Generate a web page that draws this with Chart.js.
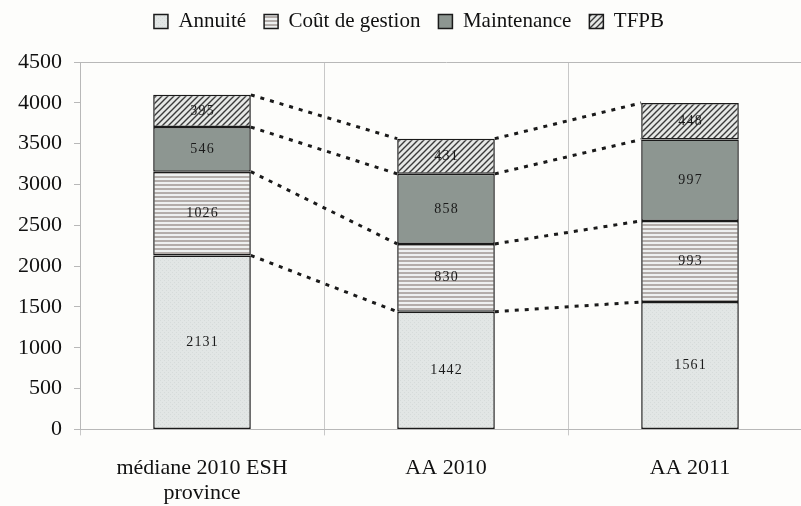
<!DOCTYPE html>
<html>
<head>
<meta charset="utf-8">
<script src="https://cdn.jsdelivr.net/npm/chart.js@4.4.1/dist/chart.umd.min.js"></script>
<style>
  html, body { margin: 0; padding: 0; background: #fdfdfb; overflow: hidden; }
  #wrap { width: 812px; height: 529px; }
</style>
</head>
<body>
<div id="wrap"><canvas id="costChart" width="812" height="529"></canvas></div>
<script>
// data
const categories = [['médiane 2010 ESH', 'province'], 'AA 2010', 'AA 2011'];
const annuite = [2131, 1442, 1561];
const coutGestion = [1026, 830, 993];
const maintenance = [546, 858, 997];
const tfpb = [395, 431, 448];
const yTicks = [0, 500, 1000, 1500, 2000, 2500, 3000, 3500, 4000, 4500];

// fill patterns (like the old excel hatching)
function makePattern(w, h, draw) {
  const c = document.createElement('canvas');
  c.width = w; c.height = h;
  const g = c.getContext('2d');
  draw(g, w, h);
  return g.createPattern(c, 'repeat');
}
const ctx = document.getElementById('costChart').getContext('2d');

const annuiteFill = makePattern(4, 4, (g, w, h) => {
  g.fillStyle = '#e2e6e5'; g.fillRect(0, 0, w, h);
  g.fillStyle = '#d6dbda'; g.fillRect(0, 0, 1, 1); g.fillRect(2, 2, 1, 1);
});
const gestionFill = makePattern(4, 4, (g, w, h) => {
  g.fillStyle = '#eef0f0'; g.fillRect(0, 0, w, h);
  g.fillStyle = '#b3adaa'; g.fillRect(0, 0, w, 2);
});
const maintenanceFill = '#8d9691';
const tfpbFill = makePattern(6, 6, (g, w, h) => {
  g.fillStyle = '#e6e8e6'; g.fillRect(0, 0, w, h);
  g.strokeStyle = '#3a3a3a'; g.lineWidth = 1.4;
  g.beginPath();
  g.moveTo(0, 6); g.lineTo(6, 0);
  g.moveTo(-3, 3); g.lineTo(3, -3);
  g.moveTo(3, 9); g.lineTo(9, 3);
  g.stroke();
});

function barSet(label, data, fill) {
  return {
    label: label,
    data: data,
    backgroundColor: fill,
    borderColor: '#1a1a1a',
    borderWidth: 1.5,
    borderSkipped: false,
    barPercentage: 0.4,
    categoryPercentage: 1.0
  };
}

// value labels in the middle of every block
const valueLabels = {
  id: 'valueLabels',
  afterDatasetsDraw(chart) {
    const c = chart.ctx;
    c.save();
    c.font = '14px "Liberation Serif", serif';
    c.fillStyle = '#1a1a1a';
    c.textAlign = 'center';
    c.textBaseline = 'middle';
    chart.data.datasets.forEach((ds, d) => {
      chart.getDatasetMeta(d).data.forEach((el, i) => {
        c.fillText(String(ds.data[i]).split('').join(String.fromCharCode(8202)), el.x, (el.y + el.base) / 2);
      });
    });
    c.restore();
  }
};

// dotted lines between the stack levels of neighbour bars
const connectors = {
  id: 'connectors',
  beforeDatasetsDraw(chart) {
    const c = chart.ctx;
    c.save();
    c.strokeStyle = '#1a1a1a';
    c.lineWidth = 3;
    c.setLineDash([4, 6]);
    c.lineCap = 'butt';
    const n = chart.data.labels.length;
    chart.data.datasets.forEach((ds, d) => {
      const bars = chart.getDatasetMeta(d).data;
      for (let i = 0; i < n - 1; i++) {
        const a = bars[i], b = bars[i + 1];
        c.beginPath();
        c.moveTo(a.x + a.width / 2, a.y);
        c.lineTo(b.x - b.width / 2, b.y);
        c.stroke();
      }
    });
    c.restore();
  }
};

// extra room under the legend
const legendGap = {
  id: 'legendGap',
  beforeInit(chart) {
    const fit = chart.legend.fit;
    chart.legend.fit = function () {
      fit.bind(chart.legend)();
      this.height += 20;
    };
  }
};

new Chart(ctx, {
  type: 'bar',
  data: {
    labels: categories,
    datasets: [
      barSet('Annuité', annuite, annuiteFill),
      barSet('Coût de gestion', coutGestion, gestionFill),
      barSet('Maintenance', maintenance, maintenanceFill),
      barSet('TFPB', tfpb, tfpbFill)
    ]
  },
  options: {
    responsive: false,
    animation: false,
    layout: { padding: { left: 6, right: 0, top: -7, bottom: 3 } },
    plugins: {
      legend: {
        position: 'top',
        labels: {
          boxWidth: 14,
          boxHeight: 14,
          padding: 18,
          color: '#111',
          font: { family: '"Liberation Serif", serif', size: 21 }
        }
      },
      tooltip: { enabled: false }
    },
    scales: {
      x: {
        stacked: true,
        grid: { color: '#c8c8c8', lineWidth: 1, tickLength: 6, tickColor: '#c8c8c8' },
        border: { color: '#b8b8b8' },
        ticks: {
          color: '#111',
          padding: 20,
          maxRotation: 0,
          font: { family: '"Liberation Serif", serif', size: 22, lineHeight: 1.15 }
        }
      },
      y: {
        stacked: true,
        min: 0,
        max: 4500,
        afterBuildTicks: (axis) => { axis.ticks = yTicks.map(v => ({ value: v })); },
        grid: {
          color: (c) => (c.tick && c.tick.value === 4500) ? '#b8b8b8' : 'rgba(0,0,0,0)',
          tickColor: '#b8b8b8',
          tickLength: 6
        },
        border: { color: '#b8b8b8' },
        ticks: {
          color: '#111',
          padding: 12,
          callback: (v) => String(v),
          font: { family: '"Liberation Serif", serif', size: 22 }
        }
      }
    }
  },
  plugins: [legendGap, connectors, valueLabels]
});
</script>
</body>
</html>
